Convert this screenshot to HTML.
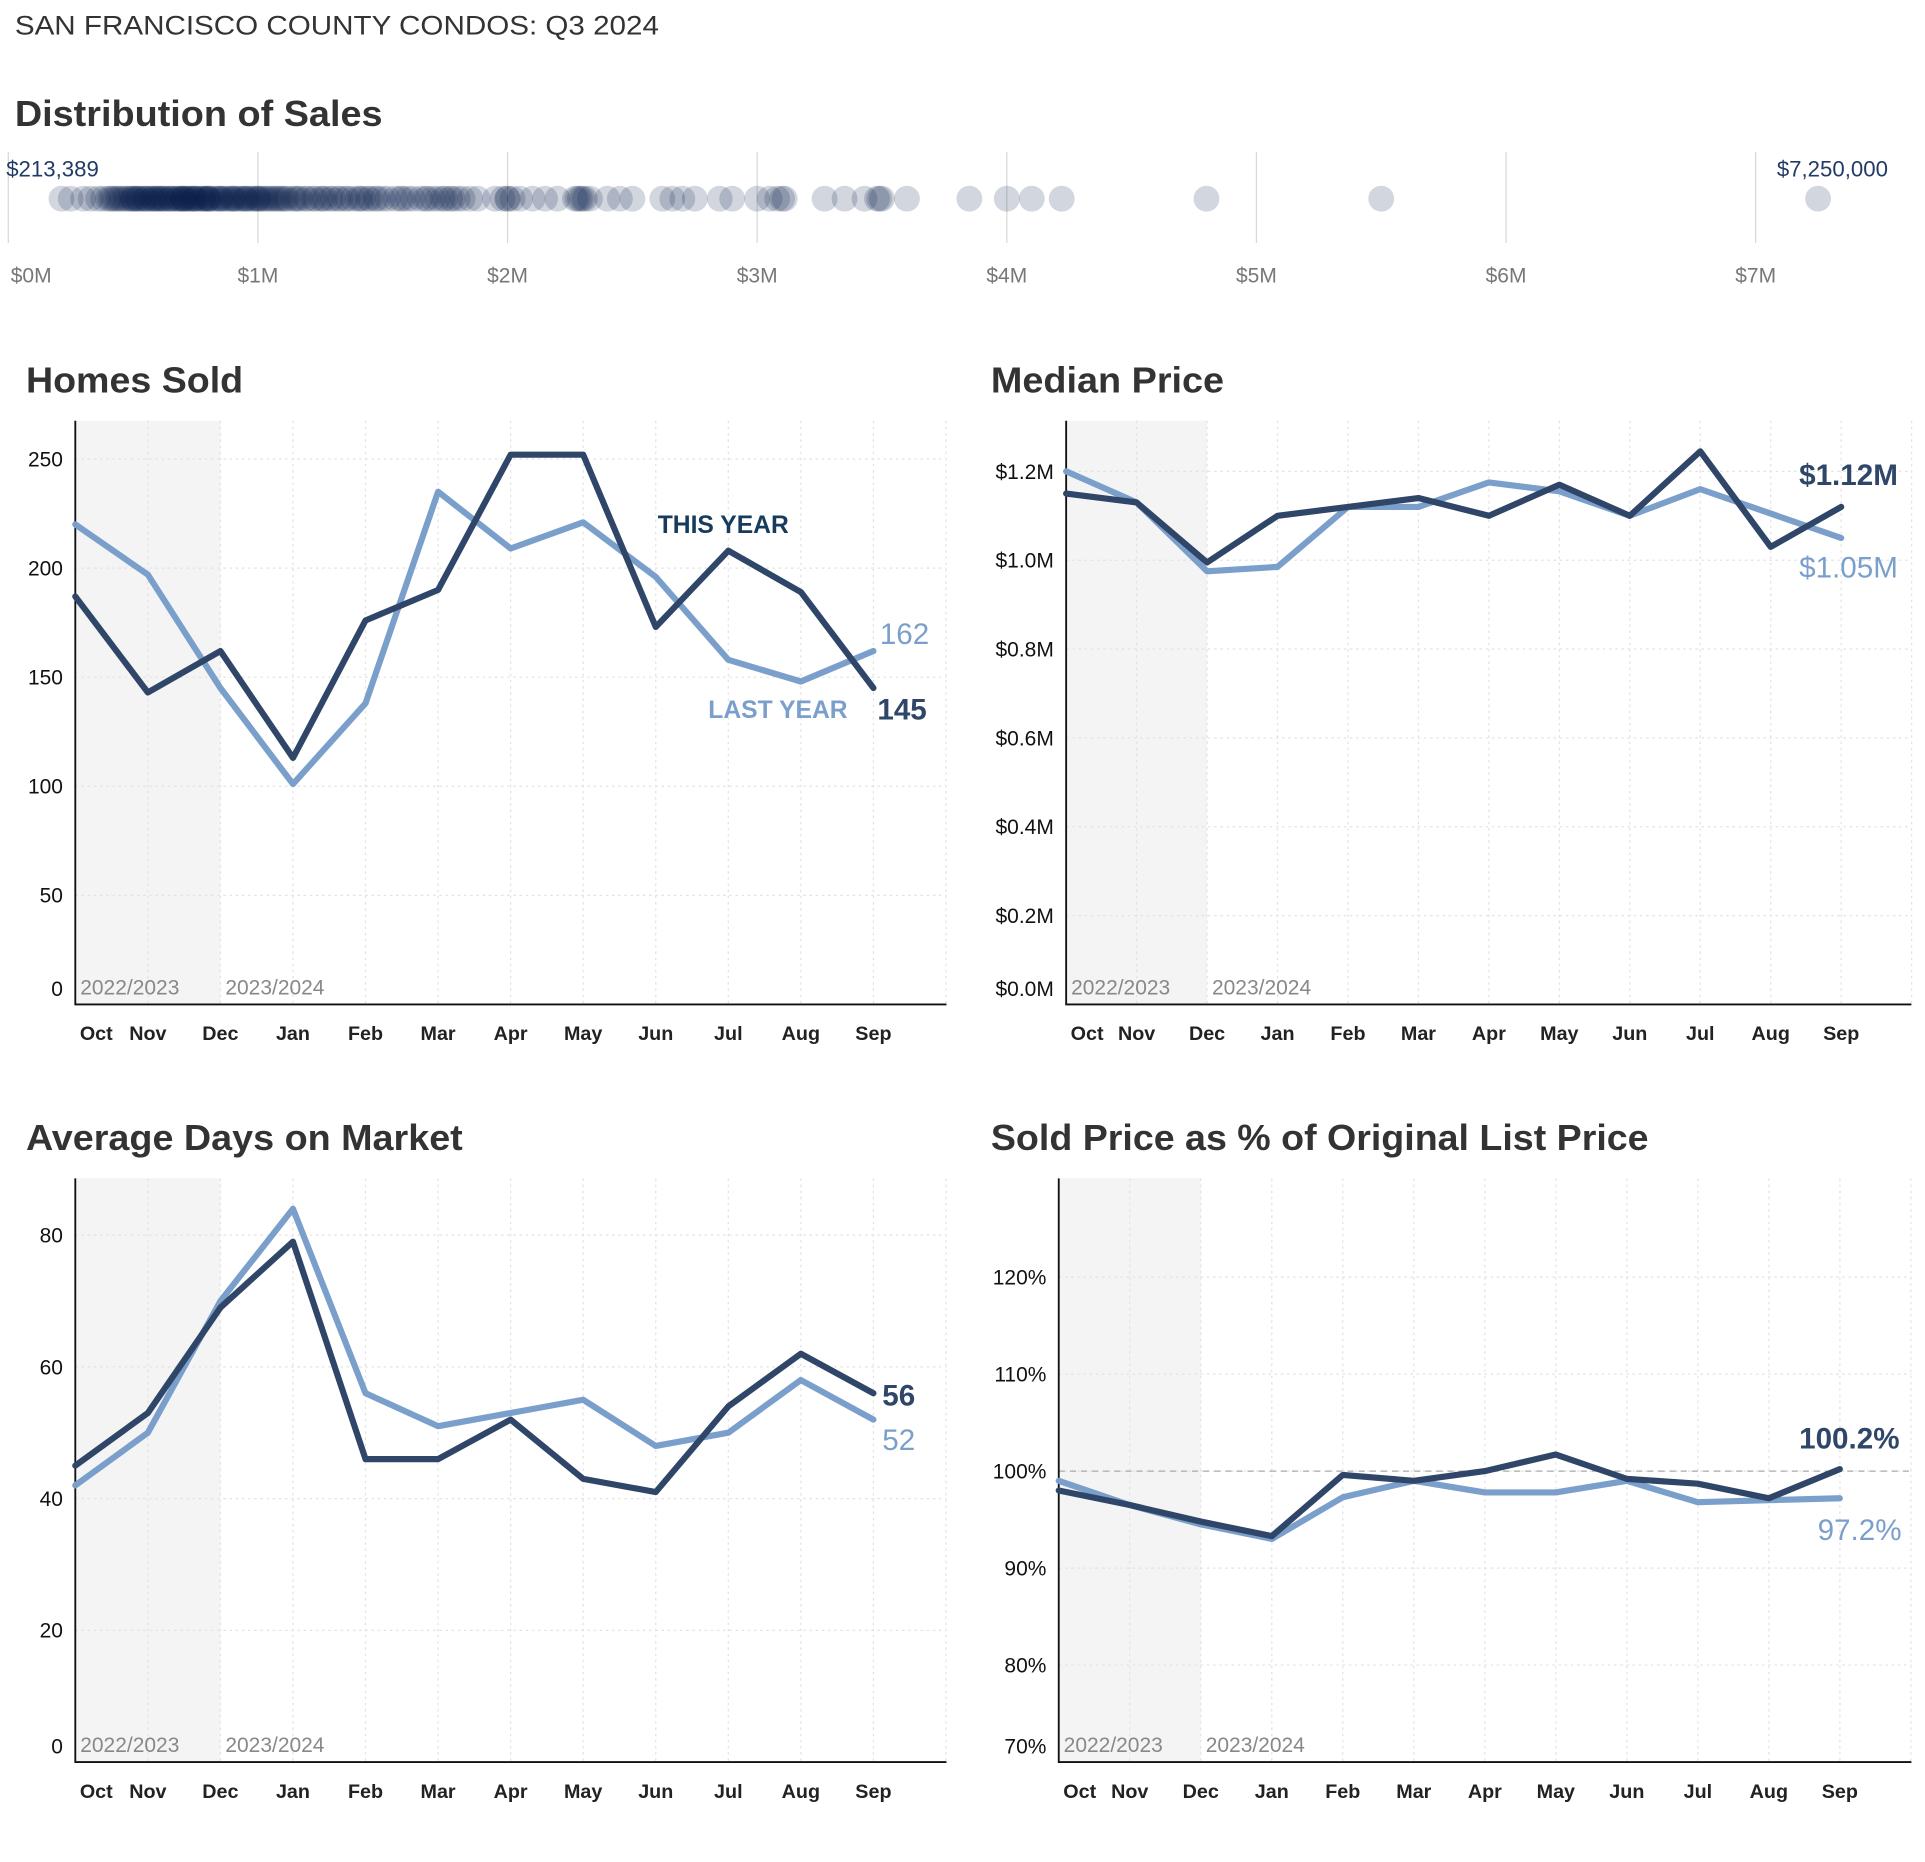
<!DOCTYPE html>
<html><head><meta charset="utf-8"><title>SF Condos Q3 2024</title>
<style>
html,body{margin:0;padding:0;background:#fff;}
svg{display:block;font-family:"Liberation Sans",sans-serif;}
</style></head>
<body>
<svg id="root" width="1925" height="1862" viewBox="0 0 1560 1509" xmlns="http://www.w3.org/2000/svg">
<rect width="1560" height="1509" fill="#fff"/>
<text x="12" y="28" font-size="22" fill="#333" textLength="522" lengthAdjust="spacingAndGlyphs">SAN FRANCISCO COUNTY CONDOS: Q3 2024</text>
<text x="12" y="102" font-size="29" font-weight="bold" fill="#333" textLength="298" lengthAdjust="spacingAndGlyphs">Distribution of Sales</text>
<g id="dist"></g>
<g id="p1"></g>
<g id="p2"></g>
<g id="p3"></g>
<g id="p4"></g>
</svg>
<script>
// ---------- data ----------
const months = ["Oct","Nov","Dec","Jan","Feb","Mar","Apr","May","Jun","Jul","Aug","Sep"];
const homesThis = [187,143,162,113,176,190,252,252,173,208,189,145];
const homesLast = [220,197,145,101,138,235,209,221,196,158,148,162];
const priceThis = [1.15,1.13,0.995,1.10,1.12,1.14,1.10,1.17,1.10,1.245,1.03,1.12];
const priceLast = [1.20,1.13,0.975,0.985,1.12,1.12,1.175,1.155,1.10,1.16,1.105,1.05];
const domThis = [45,53,69,79,46,46,52,43,41,54,62,56];
const domLast = [42,50,70,84,56,51,53,55,48,50,58,52];
const pctThis = [98,96.5,94.8,93.3,99.6,99,100,101.7,99.2,98.7,97.2,100.2];
const pctLast = [99,96.5,94.5,93,97.3,99,97.8,97.8,99,96.8,97,97.2];
const homesTicks = [0,50,100,150,200,250];
const priceTicks = [0,0.2,0.4,0.6,0.8,1.0,1.2];
const domTicks = [0,20,40,60,80];
const pctTicks = [70,80,90,100,110,120];
const distTicks = [0,1,2,3,4,5,6,7];
const salePrices = [0.213,0.25,0.3,0.33,0.36,0.38,0.4,0.41,0.42,0.43,0.44,0.45,0.46,0.47,0.48,0.49,0.5,0.5,0.51,0.52,0.52,0.53,0.54,0.55,0.55,0.56,0.57,0.58,0.58,0.59,0.6,0.6,0.61,0.62,0.62,0.63,0.64,0.65,0.65,0.66,0.67,0.68,0.68,0.69,0.7,0.7,0.7,0.71,0.72,0.72,0.73,0.74,0.74,0.75,0.75,0.76,0.77,0.78,0.78,0.79,0.8,0.8,0.8,0.81,0.82,0.83,0.84,0.85,0.85,0.86,0.87,0.88,0.89,0.9,0.9,0.91,0.92,0.93,0.94,0.95,0.95,0.96,0.97,0.98,0.99,1.0,1.0,1.01,1.02,1.03,1.04,1.05,1.06,1.07,1.08,1.09,1.1,1.11,1.12,1.14,1.15,1.16,1.17,1.19,1.2,1.22,1.23,1.25,1.26,1.27,1.29,1.3,1.32,1.33,1.35,1.36,1.38,1.4,1.41,1.42,1.44,1.45,1.47,1.48,1.5,1.52,1.55,1.57,1.58,1.6,1.62,1.65,1.67,1.68,1.7,1.72,1.74,1.75,1.77,1.78,1.8,1.82,1.85,1.88,1.95,1.98,2.0,2.0,2.02,2.05,2.1,2.15,2.2,2.27,2.28,2.29,2.3,2.31,2.33,2.4,2.45,2.5,2.62,2.66,2.7,2.75,2.85,2.9,3.0,3.05,3.08,3.1,3.11,3.27,3.35,3.43,3.48,3.49,3.5,3.6,3.85,4.0,4.1,4.22,4.8,5.5,7.25];

const NS="http://www.w3.org/2000/svg";
function mk(parent,tag,attrs,text){const e=document.createElementNS(NS,tag);for(const k in attrs)e.setAttribute(k,attrs[k]);if(text!==undefined)e.textContent=text;parent.appendChild(e);return e;}
const DARK="#2f4669", LIGHT="#7b9fcb";

// ---------- distribution ----------
(function(){
  const g=document.getElementById('dist');
  const x=v=>6.7+v*202.3;
  distTicks.forEach(t=>{
    const l=mk(g,'line',{x1:x(t),x2:x(t),y1:123,y2:197,stroke:'#d8d8d8','stroke-width':1});
    
    
    const tx=mk(g,'text',{x:x(t)+(t===0?2:0),y:229,'font-size':17,fill:'#777','text-anchor':t===0?'start':'middle'},'$'+t+'M');
    
    
  });
  salePrices.forEach(v=>{
    const c=mk(g,'circle',{cx:x(v),cy:161,r:10.5,fill:'rgb(8,25,70)','fill-opacity':0.18});
    
    
  });
  const a=mk(g,'text',{x:5,y:143,'font-size':18,fill:'#223a66'},'$213,389');
  
  
  const b=mk(g,'text',{x:1530,y:143,'font-size':18,fill:'#223a66','text-anchor':'end'},'$7,250,000');
  
  
})();

// ---------- line panels ----------
function panel(id,cfg){
  const g=document.getElementById(id);
  const {left,right,top,bottom,x0,step,vmin,vmax,ticks,fmt,thisV,lastV,title,titleX,titleW}=cfg;
  const X=i=>x0+i*step;
  const Y=v=>bottom-(v-vmin)/(vmax-vmin)*(bottom-cfg.vTop);
  const t=mk(g,'text',{x:titleX,y:top-23,'font-size':29,'font-weight':'bold',fill:'#333',textLength:titleW,lengthAdjust:'spacingAndGlyphs'},title);
  
  
  const sh=mk(g,'rect',{x:left,y:top,width:X(2)-left,height:bottom-top,fill:'#f4f4f4'});
  
  
  for(let i=1;i<=12;i++){
    const gl=mk(g,'line',{x1:X(i),x2:X(i),y1:top,y2:bottom,stroke:'#e2e2e2','stroke-dasharray':'2,3'});
    
    
  }
  ticks.forEach(v=>{
    const y=Y(v);
    if(v!==vmin){const gl=mk(g,'line',{x1:left,x2:right,y1:y,y2:y,stroke:'#e2e2e2','stroke-dasharray':'2,3'});
    
    }
    const ly=Math.min(y+6,bottom-7);
    const tl=mk(g,'text',{x:left-10,y:ly,'font-size':17,fill:'#111','text-anchor':'end'},fmt(v));
    
    
  });
  if(cfg.refLine!==undefined){
    const rl=mk(g,'line',{x1:left,x2:right,y1:Y(cfg.refLine),y2:Y(cfg.refLine),stroke:'#aaa','stroke-dasharray':'5,4'});
    
    
  }
  const ax=mk(g,'path',{d:`M${left},${top}V${bottom}H${right}`,fill:'none',stroke:'#111','stroke-width':1.5});
  
  
  const y1=mk(g,'text',{x:left+4,y:bottom-8,'font-size':17,fill:'#888'},'2022/2023');
  
  
  const y2=mk(g,'text',{x:X(2)+4,y:bottom-8,'font-size':17,fill:'#888'},'2023/2024');
  
  
  months.forEach((m,i)=>{
    const lx=i===0?X(0)+17:X(i);
    const ml=mk(g,'text',{x:lx,y:bottom+29,'font-size':16,'font-weight':'bold',fill:'#222','text-anchor':'middle'},m);
    
    
  });
  const pts=a=>a.map((v,i)=>X(i).toFixed(1)+','+Y(v).toFixed(1)).join(' ');
  const pl=mk(g,'polyline',{points:pts(lastV),fill:'none',stroke:LIGHT,'stroke-width':5,'stroke-linejoin':'round','stroke-linecap':'round'});
  
  
  const pt=mk(g,'polyline',{points:pts(thisV),fill:'none',stroke:DARK,'stroke-width':5,'stroke-linejoin':'round','stroke-linecap':'round'});
  
  
  cfg.labels.forEach(L=>{
    const e=mk(g,'text',{x:L.x,y:L.y,'font-size':L.fs||24,fill:L.c,'font-weight':L.b?'bold':'normal','text-anchor':L.a||'start'},L.t);
    
    
  });
}
panel('p1',{left:61,right:767,top:341,bottom:814,vTop:372,x0:61,step:58.8,vmin:0,vmax:250,ticks:homesTicks,fmt:v=>String(v),
  thisV:homesThis,lastV:homesLast,title:'Homes Sold',titleX:21,titleW:176,
  labels:[{x:533,y:432,t:'THIS YEAR',c:'#163b5c',fs:20,b:true,n:'this-year-legend'},{x:574,y:582,t:'LAST YEAR',c:'#7b9fcb',fs:20,b:true,n:'last-year-legend'},
          {x:713,y:522,t:'162',c:LIGHT,n:'last-year-end-value'},{x:711,y:583,t:'145',c:DARK,b:true,n:'this-year-end-value'}]});
panel('p2',{left:864,right:1549,top:341,bottom:814,vTop:382,x0:864,step:57.1,vmin:0,vmax:1.2,ticks:priceTicks,fmt:v=>'$'+v.toFixed(1)+'M',
  thisV:priceThis,lastV:priceLast,title:'Median Price',titleX:803,titleW:189,
  labels:[{x:1458,y:393,t:'$1.12M',c:DARK,b:true,n:'this-year-end-value'},{x:1458,y:468,t:'$1.05M',c:LIGHT,n:'last-year-end-value'}]});
panel('p3',{left:61,right:767,top:955,bottom:1428,vTop:1001,x0:61,step:58.8,vmin:0,vmax:80,ticks:domTicks,fmt:v=>String(v),
  thisV:domThis,lastV:domLast,title:'Average Days on Market',titleX:21,titleW:354,
  labels:[{x:715,y:1139,t:'56',c:DARK,b:true,n:'this-year-end-value'},{x:715,y:1175,t:'52',c:LIGHT,n:'last-year-end-value'}]});
panel('p4',{left:858,right:1549,top:955,bottom:1428,vTop:1035,x0:858,step:57.55,vmin:70,vmax:120,ticks:pctTicks,fmt:v=>v+'%',refLine:100,
  thisV:pctThis,lastV:pctLast,title:'Sold Price as % of Original List Price',titleX:803,titleW:533,
  labels:[{x:1458,y:1174,t:'100.2%',c:DARK,b:true,n:'this-year-end-value'},{x:1473,y:1248,t:'97.2%',c:LIGHT,n:'last-year-end-value'}]});
</script>
</body></html>
